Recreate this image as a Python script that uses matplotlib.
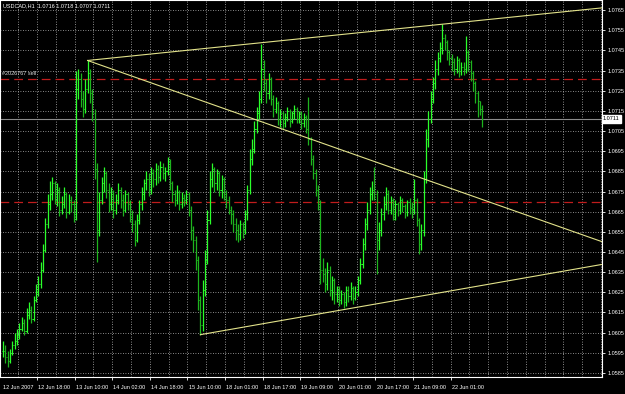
import numpy as np
import matplotlib
matplotlib.use("Agg")
from matplotlib import pyplot as plt
from matplotlib import transforms

# USDCAD H1, 12-22 Jun 2007
closes = [1.0596, 1.0593, 1.0591, 1.0595, 1.0599, 1.0601, 1.0604, 1.0607, 1.0610, 1.0606,
          1.0614, 1.0616, 1.0612, 1.0621, 1.0625, 1.0629, 1.0636, 1.0646, 1.0659, 1.0669,
          1.0674, 1.0679, 1.0671, 1.0676, 1.0666, 1.0669, 1.0674, 1.0665, 1.0671, 1.0669,
          1.0664, 1.0726, 1.0731, 1.0721, 1.0716, 1.0726, 1.0734, 1.0724, 1.0714, 1.0686,
          1.0656, 1.0671, 1.0679, 1.0684, 1.0676, 1.0669, 1.0674, 1.0666, 1.0671, 1.0676,
          1.0671, 1.0666, 1.0674, 1.0669, 1.0664, 1.0659, 1.0651, 1.0661, 1.0669, 1.0674,
          1.0679, 1.0681, 1.0676, 1.0684, 1.0681, 1.0686, 1.0682, 1.0687, 1.0684, 1.0685,
          1.0690, 1.0679, 1.0674, 1.0671, 1.0675, 1.0669, 1.0672, 1.0671, 1.0674, 1.0666,
          1.0656, 1.0651, 1.0641, 1.0621, 1.0609, 1.0626, 1.0641, 1.0661, 1.0681, 1.0686,
          1.0679, 1.0684, 1.0676, 1.0681, 1.0674, 1.0671, 1.0666, 1.0664, 1.0659, 1.0656,
          1.0654, 1.0659, 1.0656, 1.0664, 1.0676, 1.0691, 1.0696, 1.0706, 1.0714, 1.0721,
          1.0736, 1.0729, 1.0724, 1.0731, 1.0721, 1.0716, 1.0719, 1.0711, 1.0714, 1.0709,
          1.0712, 1.0715, 1.0710, 1.0714, 1.0716, 1.0711, 1.0714, 1.0709, 1.0712, 1.0706,
          1.0701, 1.0691, 1.0684, 1.0676, 1.0669, 1.0636, 1.0634, 1.0629, 1.0636, 1.0626,
          1.0631, 1.0624, 1.0626, 1.0621, 1.0624, 1.0620, 1.0626, 1.0623, 1.0627, 1.0622,
          1.0625, 1.0631, 1.0639, 1.0649, 1.0659, 1.0666, 1.0674, 1.0676, 1.0674, 1.0651,
          1.0656, 1.0664, 1.0669, 1.0674, 1.0666, 1.0671, 1.0664, 1.0669, 1.0666, 1.0671,
          1.0668, 1.0665, 1.0670, 1.0667, 1.0666, 1.0671, 1.0661, 1.0649, 1.0656, 1.0681,
          1.0701, 1.0711, 1.0721, 1.0729, 1.0736, 1.0741, 1.0746, 1.0751, 1.0749, 1.0744,
          1.0741, 1.0739, 1.0736, 1.0740, 1.0735, 1.0737, 1.0736, 1.0744, 1.0739, 1.0734,
          1.0729, 1.0724, 1.0720, 1.0716, 1.0711]

highs = [1.0601, 1.0599, 1.0596, 1.0597, 1.0601, 1.0605, 1.0607, 1.0610, 1.0613, 1.0612,
         1.0617, 1.0620, 1.0618, 1.0623, 1.0629, 1.0633, 1.0640, 1.0649, 1.0662, 1.0674,
         1.0680, 1.0682, 1.0680, 1.0679, 1.0677, 1.0673, 1.0677, 1.0675, 1.0674, 1.0673,
         1.0671, 1.0735, 1.0736, 1.0734, 1.0725, 1.0731, 1.0740, 1.0736, 1.0726, 1.0716,
         1.0689, 1.0675, 1.0682, 1.0687, 1.0685, 1.0679, 1.0677, 1.0676, 1.0674, 1.0679,
         1.0677, 1.0674, 1.0676, 1.0675, 1.0671, 1.0666, 1.0661, 1.0664, 1.0671, 1.0677,
         1.0681, 1.0685, 1.0684, 1.0687, 1.0686, 1.0689, 1.0688, 1.0690, 1.0689, 1.0687,
         1.0692, 1.0691, 1.0680, 1.0676, 1.0678, 1.0676, 1.0675, 1.0674, 1.0676, 1.0675,
         1.0668, 1.0658, 1.0653, 1.0643, 1.0623, 1.0631, 1.0646, 1.0666, 1.0685, 1.0689,
         1.0687, 1.0686, 1.0685, 1.0683, 1.0682, 1.0676, 1.0673, 1.0668, 1.0666, 1.0662,
         1.0659, 1.0661, 1.0660, 1.0666, 1.0678, 1.0696, 1.0701, 1.0710, 1.0717, 1.0725,
         1.0748, 1.0740, 1.0731, 1.0734, 1.0732, 1.0723, 1.0722, 1.0720, 1.0716, 1.0715,
         1.0714, 1.0717, 1.0716, 1.0715, 1.0718, 1.0717, 1.0715, 1.0715, 1.0714, 1.0713,
         1.0722, 1.0702, 1.0693, 1.0686, 1.0678, 1.0671, 1.0642, 1.0637, 1.0640, 1.0638,
         1.0633, 1.0632, 1.0628, 1.0628, 1.0626, 1.0625, 1.0628, 1.0628, 1.0630, 1.0628,
         1.0628, 1.0633, 1.0642, 1.0652, 1.0662, 1.0670, 1.0677, 1.0680, 1.0687, 1.0676,
         1.0660, 1.0667, 1.0673, 1.0677, 1.0676, 1.0673, 1.0672, 1.0671, 1.0670, 1.0673,
         1.0672, 1.0669, 1.0671, 1.0672, 1.0670, 1.0681, 1.0672, 1.0662, 1.0659, 1.0685,
         1.0706, 1.0715, 1.0725, 1.0732, 1.0740, 1.0744, 1.0749, 1.0758, 1.0753, 1.0750,
         1.0745, 1.0743, 1.0741, 1.0742, 1.0741, 1.0739, 1.0739, 1.0752, 1.0745, 1.0740,
         1.0735, 1.0730, 1.0725, 1.0719, 1.0718]

lows = [1.0593, 1.0590, 1.0588, 1.0590, 1.0594, 1.0597, 1.0599, 1.0602, 1.0606, 1.0604,
        1.0605, 1.0612, 1.0610, 1.0611, 1.0620, 1.0623, 1.0627, 1.0635, 1.0645, 1.0657,
        1.0666, 1.0671, 1.0669, 1.0668, 1.0663, 1.0664, 1.0667, 1.0662, 1.0664, 1.0665,
        1.0660, 1.0661, 1.0721, 1.0717, 1.0712, 1.0714, 1.0724, 1.0719, 1.0710, 1.0681,
        1.0640, 1.0653, 1.0669, 1.0675, 1.0672, 1.0665, 1.0666, 1.0662, 1.0664, 1.0669,
        1.0667, 1.0663, 1.0665, 1.0666, 1.0660, 1.0655, 1.0648, 1.0650, 1.0659, 1.0666,
        1.0671, 1.0676, 1.0673, 1.0674, 1.0677, 1.0678, 1.0679, 1.0680, 1.0681, 1.0680,
        1.0683, 1.0676, 1.0670, 1.0668, 1.0669, 1.0666, 1.0667, 1.0668, 1.0669, 1.0663,
        1.0651, 1.0645, 1.0636, 1.0616, 1.0604, 1.0606, 1.0623, 1.0639, 1.0659, 1.0677,
        1.0675, 1.0676, 1.0673, 1.0672, 1.0671, 1.0667, 1.0664, 1.0659, 1.0655, 1.0651,
        1.0650, 1.0651, 1.0652, 1.0654, 1.0661, 1.0674, 1.0688, 1.0694, 1.0704, 1.0711,
        1.0719, 1.0725, 1.0719, 1.0721, 1.0718, 1.0712, 1.0714, 1.0708, 1.0707, 1.0706,
        1.0707, 1.0710, 1.0707, 1.0709, 1.0711, 1.0709, 1.0709, 1.0706, 1.0707, 1.0704,
        1.0698, 1.0688, 1.0681, 1.0673, 1.0666, 1.0629, 1.0630, 1.0625, 1.0626, 1.0623,
        1.0621, 1.0619, 1.0620, 1.0618, 1.0619, 1.0617, 1.0618, 1.0620, 1.0621, 1.0619,
        1.0621, 1.0623, 1.0629, 1.0637, 1.0646, 1.0656, 1.0664, 1.0671, 1.0671, 1.0634,
        1.0646, 1.0653, 1.0661, 1.0666, 1.0664, 1.0664, 1.0661, 1.0661, 1.0663, 1.0664,
        1.0665, 1.0662, 1.0663, 1.0664, 1.0662, 1.0664, 1.0658, 1.0644, 1.0646, 1.0653,
        1.0679, 1.0697, 1.0709, 1.0719, 1.0726, 1.0733, 1.0739, 1.0743, 1.0745, 1.0740,
        1.0738, 1.0735, 1.0733, 1.0734, 1.0732, 1.0733, 1.0733, 1.0734, 1.0735, 1.0730,
        1.0725, 1.0719, 1.0712, 1.0713, 1.0707]

# time axis labels, one every 16 bars
date_labels = ["12 Jun 2007", "12 Jun 18:00", "13 Jun 10:00", "14 Jun 02:00",
               "14 Jun 18:00", "15 Jun 10:00", "18 Jun 01:00", "18 Jun 17:00",
               "19 Jun 09:00", "20 Jun 01:00", "20 Jun 17:00", "21 Jun 09:00",
               "22 Jun 01:00"]
price_ticks = [1.0765, 1.0755, 1.0745, 1.0735, 1.0725, 1.0715, 1.0705, 1.0695,
               1.0685, 1.0675, 1.0665, 1.0655, 1.0645, 1.0635, 1.0625, 1.0615,
               1.0605, 1.0595, 1.0585]

# trend lines: (bar, price) anchor points, drawn as rays
upper_line = [(36, 1.0740), (187, 1.0758)]
falling_line = [(36, 1.0740), (187, 1.0678)]
lower_line = [(84, 1.0604), (187, 1.0625)]

order_levels = [1.0731, 1.0670]
order_label = "#2026767 sell"
bid = 1.0711
title = "USDCAD,H1  1.0716 1.0718 1.0707 1.0711"

plt.rcParams['font.family'] = ['Liberation Sans', 'DejaVu Sans']

W, H = 625, 394
fig = plt.figure(figsize=(W / 100, H / 100), dpi=100, facecolor='black')
ax_right, ax_bottom = 602, 377
ax = fig.add_axes([0, 1 - ax_bottom / H, ax_right / W, ax_bottom / H])
ax.set_facecolor('black')

xmin, xmax = -1.28, 254.9
ax.set_xlim(xmin, xmax)
ax.set_ylim(1.05830, 1.07700)

# grid
grid_x = np.arange(-1.5, xmax, 8)
for gx in grid_x:
    ax.axvline(gx, color='#b8b8b8', lw=0.6, ls=(0, (1, 2)), zorder=0)
for gy in price_ticks:
    ax.axhline(gy, color='#b8b8b8', lw=0.6, ls=(0, (1, 2)), zorder=0)

# order lines and bid line
for lvl in order_levels:
    ax.axhline(lvl, color='#c01c1c', lw=0.9, ls=(0, (7, 4)), zorder=1)
ax.axhline(bid, color='#8c8c8c', lw=0.8, zorder=1)
ax.text(0.004, order_levels[0] + 0.00012, order_label,
        transform=transforms.blended_transform_factory(ax.transAxes, ax.transData),
        color='#d8d8d8', fontsize=4, va='bottom', ha='left')

# OHLC bars
c = np.array(closes)
x = np.arange(len(c))
o = np.r_[c[0], c[:-1]]
hi = np.maximum.reduce([np.array(highs), o, c])
lo = np.minimum.reduce([np.array(lows), o, c])
up = c >= o
for mask, col in [(up, '#2aff2a'), (~up, '#1eb41e')]:
    ax.vlines(x[mask], lo[mask], hi[mask], color=col, lw=0.9, zorder=3)
    ax.hlines(o[mask], x[mask] - 0.45, x[mask], color=col, lw=0.7, zorder=3)
    ax.hlines(c[mask], x[mask], x[mask] + 0.45, color=col, lw=0.7, zorder=3)

# trend lines
for (x0, y0), (x1, y1) in [upper_line, falling_line, lower_line]:
    slope = (y1 - y0) / (x1 - x0)
    ax.plot([x0, xmax], [y0, y0 + slope * (xmax - x0)], color='#e2e28a', lw=0.8, zorder=4)

# axes styling
for s in ax.spines.values():
    s.set_color('white')
    s.set_linewidth(0.8)
ax.yaxis.tick_right()
ax.set_yticks(price_ticks)
ax.set_yticklabels([f"{p:.4f}" for p in price_ticks])
ax.tick_params(axis='y', colors='white', labelsize=4, length=2.5, width=0.6, pad=1.5)
tick_x = [-1.5 + 16 * k for k in range(len(date_labels))]
ax.set_xticks(tick_x[1:])
ax.tick_params(axis='x', colors='white', length=2.5, width=0.6, labelbottom=False)

tb = transforms.blended_transform_factory(ax.transData, ax.transAxes)
for tx, lab in zip(tick_x, date_labels):
    ax.text(max(tx, -0.4) + 0.5, -0.028, lab, transform=tb, color='white',
            fontsize=4, ha='left', va='center', clip_on=False)

# bid price box on the price scale
tr = transforms.blended_transform_factory(fig.transFigure, ax.transData)
ax.text(603 / W, bid, f"{bid:.4f}", transform=tr, color='black', fontsize=4,
        ha='left', va='center', clip_on=False,
        bbox=dict(boxstyle='square,pad=0.25', fc='white', ec='white'))

fig.text(3 / W, 1 - 6 / H, title, color='white', fontsize=4, ha='left', va='center')

fig.savefig('out.png', dpi=100, facecolor='black')
